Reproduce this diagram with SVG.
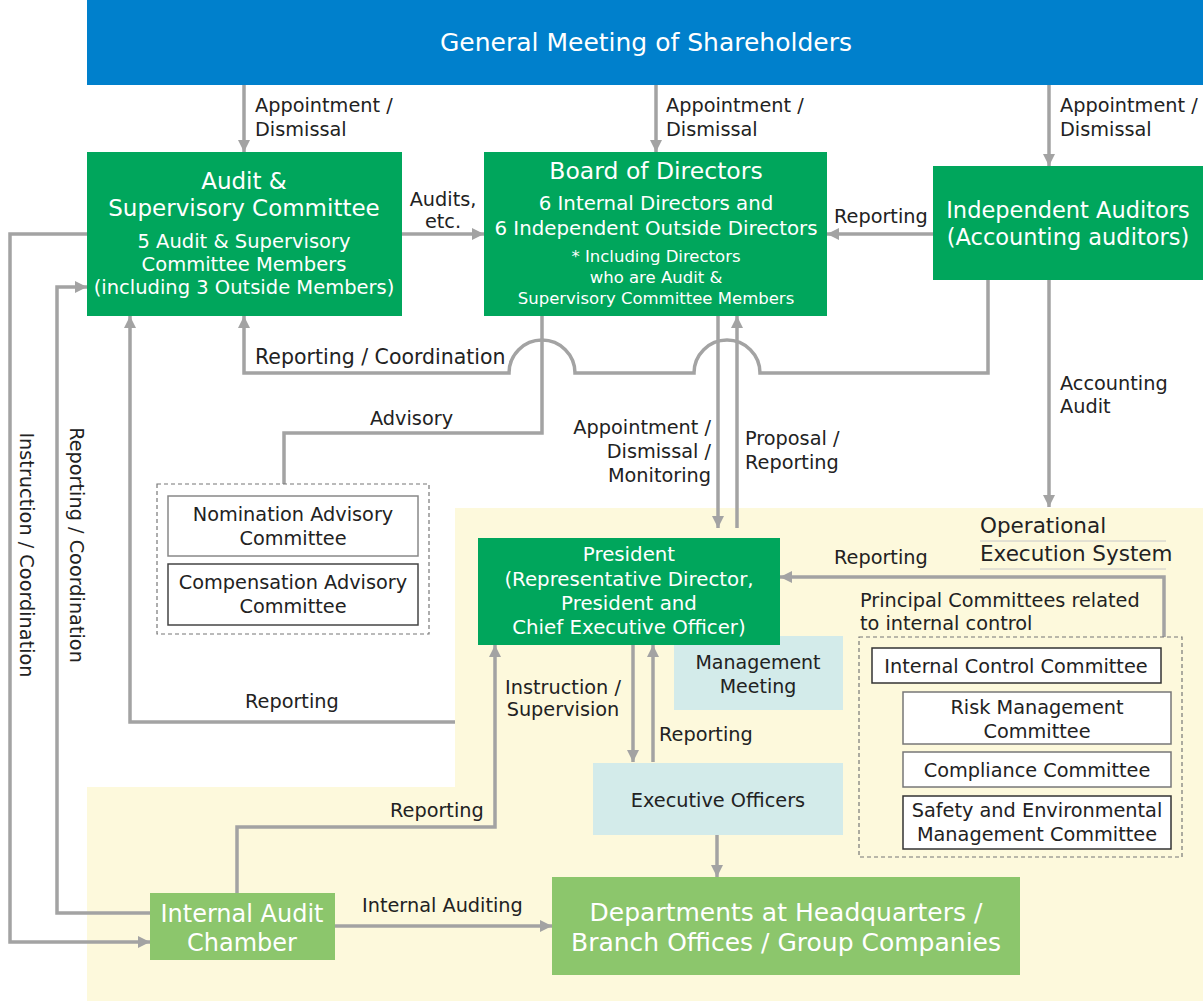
<svg xmlns="http://www.w3.org/2000/svg" width="1203" height="1001" viewBox="0 0 1203 1001">
<defs>
<style>
text{font-family:"DejaVu Sans","Noto Sans",sans-serif;}
.lbl{font-size:19.3px;fill:#222;}
.wt{fill:#fff;text-anchor:middle;}
.bk{fill:#222;text-anchor:middle;}
.c{fill:none;stroke:#a3a3a3;stroke-width:3.5;}
.a{marker-end:url(#ah);}
.dg{fill:#00a65c;}
.lg{fill:#8cc66c;}
.lb{fill:#d3ebea;}
.wb{fill:#fff;stroke-width:1.5;}
.dash{fill:none;stroke:#777;stroke-width:1.2;stroke-dasharray:4 3;}
</style>
<marker id="ah" viewBox="0 0 10 10" refX="10" refY="5" markerWidth="12" markerHeight="12" markerUnits="userSpaceOnUse" orient="auto">
<path d="M0,0 L10,5 L0,10 z" fill="#a3a3a3"/>
</marker>
</defs>
<rect width="1203" height="1001" fill="#fff"/>
<polygon points="455,508 1203,508 1203,1001 87,1001 87,787 455,787" fill="#fdf9dc"/>

<g id="header">
<rect x="87" y="0" width="1116" height="85" fill="#0080cc"/>
<text x="646" y="51" class="wt" font-size="25">General Meeting of Shareholders</text>
</g>

<g id="connectors">
<path class="c a" d="M244,85 V152"/>
<path class="c a" d="M656,85 V152"/>
<path class="c a" d="M1049,85 V166"/>
<path class="c a" d="M402,234 H484"/>
<path class="c a" d="M933,234 H827"/>
<path class="c a" d="M988,280 V373 H760 A33,33 0 0 0 694,373 H575 A33,33 0 0 0 509,373 H244 V316"/>
<path class="c" d="M542,316 V433 H284 V484"/>
<path class="c a" d="M718,316 V528"/>
<path class="c a" d="M737,528 V316"/>
<path class="c a" d="M1049,280 V507"/>
<path class="c a" d="M1164,637 V577 H780"/>
<path class="c a" d="M633,645 V762"/>
<path class="c a" d="M653,762 V645"/>
<path class="c a" d="M717,835 V877"/>
<path class="c a" d="M455,722 H130 V316"/>
<path class="c a" d="M237,893 V827 H495 V645"/>
<path class="c a" d="M335,926 H552"/>
<path class="c a" d="M87,234 H10 V942 H150"/>
<path class="c a" d="M150,913 H57 V287 H87"/>
<line x1="980" y1="541" x2="1166" y2="541" stroke="#c8c8c8" stroke-width="1"/>
<line x1="980" y1="569" x2="1166" y2="569" stroke="#c8c8c8" stroke-width="1"/>
</g>

<g id="labels">
<text class="lbl" x="255" y="112">Appointment /</text>
<text class="lbl" x="255" y="136">Dismissal</text>
<text class="lbl" x="666" y="112">Appointment /</text>
<text class="lbl" x="666" y="136">Dismissal</text>
<text class="lbl" x="1060" y="112">Appointment /</text>
<text class="lbl" x="1060" y="136">Dismissal</text>
<text class="lbl" x="443" y="206" text-anchor="middle">Audits,</text>
<text class="lbl" x="443" y="228" text-anchor="middle">etc.</text>
<text class="lbl" x="834" y="223">Reporting</text>
<text class="lbl" x="255" y="364" style="font-size:20.5px">Reporting / Coordination</text>
<text class="lbl" x="370" y="425">Advisory</text>
<text class="lbl" x="711" y="434" text-anchor="end">Appointment /</text>
<text class="lbl" x="711" y="458" text-anchor="end">Dismissal /</text>
<text class="lbl" x="711" y="482" text-anchor="end">Monitoring</text>
<text class="lbl" x="745" y="445">Proposal /</text>
<text class="lbl" x="745" y="469">Reporting</text>
<text class="lbl" x="1060" y="390">Accounting</text>
<text class="lbl" x="1060" y="413">Audit</text>
<text class="lbl" x="980" y="533" style="font-size:21.5px">Operational</text>
<text class="lbl" x="980" y="561" style="font-size:21.5px">Execution System</text>
<text class="lbl" x="834" y="564">Reporting</text>
<text class="lbl" x="860" y="607">Principal Committees related</text>
<text class="lbl" x="860" y="630">to internal control</text>
<text class="lbl" x="245" y="708">Reporting</text>
<text class="lbl" x="563" y="694" text-anchor="middle">Instruction /</text>
<text class="lbl" x="563" y="716" text-anchor="middle">Supervision</text>
<text class="lbl" x="659" y="741">Reporting</text>
<text class="lbl" x="390" y="817">Reporting</text>
<text class="lbl" x="362" y="912">Internal Auditing</text>
<text class="lbl" text-anchor="middle" transform="translate(20,555) rotate(90)">Instruction / Coordination</text>
<text class="lbl" text-anchor="middle" transform="translate(70,545) rotate(90)">Reporting / Coordination</text>
</g>

<g id="audit-supervisory-committee">
<rect class="dg" x="87" y="152" width="315" height="164"/>
<text class="wt" x="244" y="189" font-size="23">Audit &amp;</text>
<text class="wt" x="244" y="216" font-size="23">Supervisory Committee</text>
<text class="wt" x="244" y="248" font-size="19.5">5 Audit &amp; Supervisory</text>
<text class="wt" x="244" y="271" font-size="19.5">Committee Members</text>
<text class="wt" x="244" y="294" font-size="19.5">(including 3 Outside Members)</text>
</g>

<g id="board-of-directors">
<rect class="dg" x="484" y="152" width="343" height="164"/>
<text class="wt" x="656" y="179" font-size="23.5">Board of Directors</text>
<text class="wt" x="656" y="210" font-size="19.8">6 Internal Directors and</text>
<text class="wt" x="656" y="235" font-size="19.8">6 Independent Outside Directors</text>
<text class="wt" x="656" y="262" font-size="16.5">* Including Directors</text>
<text class="wt" x="656" y="283" font-size="16.5">who are Audit &amp;</text>
<text class="wt" x="656" y="304" font-size="16.5">Supervisory Committee Members</text>
</g>

<g id="independent-auditors">
<rect class="dg" x="933" y="166" width="270" height="114"/>
<text class="wt" x="1068" y="218" font-size="22.5">Independent Auditors</text>
<text class="wt" x="1068" y="245" font-size="22.5">(Accounting auditors)</text>
</g>

<g id="advisory-committees">
<rect class="dash" x="157" y="484" width="272" height="150"/>
<rect class="wb" x="168" y="496" width="250" height="60" stroke="#888"/>
<text class="bk" x="293" y="521" font-size="19.3">Nomination Advisory</text>
<text class="bk" x="293" y="545" font-size="19.3">Committee</text>
<rect class="wb" x="168" y="564" width="250" height="61" stroke="#444"/>
<text class="bk" x="293" y="589" font-size="19.3">Compensation Advisory</text>
<text class="bk" x="293" y="613" font-size="19.3">Committee</text>
</g>

<g id="management-meeting">
<rect class="lb" x="674" y="636" width="169" height="74"/>
<text class="bk" x="758" y="669" font-size="19">Management</text>
<text class="bk" x="758" y="693" font-size="19">Meeting</text>
</g>

<g id="president">
<rect class="dg" x="478" y="538" width="302" height="107"/>
<text class="wt" x="629" y="561" font-size="19.8">President</text>
<text class="wt" x="629" y="586" font-size="19.8">(Representative Director,</text>
<text class="wt" x="629" y="610" font-size="19.8">President and</text>
<text class="wt" x="629" y="634" font-size="19.8">Chief Executive Officer)</text>
</g>

<g id="executive-officers">
<rect class="lb" x="593" y="763" width="250" height="72"/>
<text class="bk" x="718" y="807" font-size="19.3">Executive Officers</text>
</g>

<g id="principal-committees">
<rect class="dash" x="859" y="637" width="323" height="220"/>
<rect class="wb" x="872" y="648" width="289" height="35" stroke="#333"/>
<text class="bk" x="1016" y="673" font-size="19.3">Internal Control Committee</text>
<rect class="wb" x="903" y="692" width="268" height="52" stroke="#777"/>
<text class="bk" x="1037" y="714" font-size="19.3">Risk Management</text>
<text class="bk" x="1037" y="738" font-size="19.3">Committee</text>
<rect class="wb" x="903" y="752" width="268" height="35" stroke="#777"/>
<text class="bk" x="1037" y="777" font-size="19.3">Compliance Committee</text>
<rect class="wb" x="903" y="796" width="268" height="53" stroke="#333"/>
<text class="bk" x="1037" y="817" font-size="19.3">Safety and Environmental</text>
<text class="bk" x="1037" y="841" font-size="19.3">Management Committee</text>
</g>

<g id="internal-audit-chamber">
<rect class="lg" x="150" y="893" width="185" height="67"/>
<text class="wt" x="242" y="922" font-size="24">Internal Audit</text>
<text class="wt" x="242" y="951" font-size="24">Chamber</text>
</g>

<g id="departments">
<rect class="lg" x="552" y="877" width="468" height="98"/>
<text class="wt" x="786" y="921" font-size="25">Departments at Headquarters /</text>
<text class="wt" x="786" y="951" font-size="25">Branch Offices / Group Companies</text>
</g>
</svg>
